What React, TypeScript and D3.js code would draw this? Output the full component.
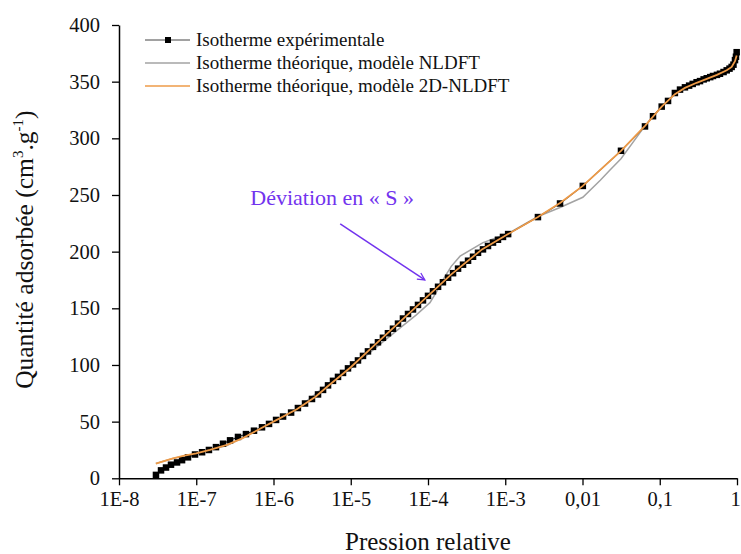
import React, { useEffect, useRef } from "react";
import * as d3 from "d3";

// experimental isotherm : relative pressure / adsorbed quantity (cm3.g-1)
const expPressure = [
    3.01e-8, 3.5e-8, 4.06e-8, 4.71e-8, 5.64e-8, 6.55e-8, 7.82e-8, 9.64e-8, 1.19e-7, 1.46e-7,
    1.8e-7, 2.22e-7, 2.74e-7, 3.47e-7, 4.4e-7, 5.59e-7, 7.1e-7, 8.75e-7, 1.08e-6, 1.33e-6,
    1.69e-6, 2.07e-6, 2.56e-6, 3.15e-6, 3.77e-6, 4.38e-6, 5.08e-6, 5.89e-6, 6.84e-6, 7.94e-6,
    9.21e-6, 1.07e-5, 1.24e-5, 1.44e-5, 1.67e-5, 1.94e-5, 2.25e-5, 2.61e-5, 3.03e-5, 3.52e-5,
    4.09e-5, 4.74e-5, 5.51e-5, 6.39e-5, 7.42e-5, 8.61e-5, 1.0e-4, 1.16e-4, 1.35e-4, 1.56e-4,
    1.82e-4, 2.11e-4, 2.45e-4, 2.84e-4, 3.3e-4, 3.83e-4, 4.44e-4, 5.15e-4, 5.98e-4, 6.94e-4,
    8.05e-4, 9.35e-4, 1.09e-3, 2.65e-3, 5.12e-3, 1.01e-2, 3.15e-2, 6.44e-2, 8.18e-2, 0.106,
    0.128, 0.157, 0.183, 0.212, 0.24, 0.267, 0.3, 0.332, 0.37, 0.406,
    0.45, 0.489, 0.55, 0.602, 0.67, 0.736, 0.8, 0.853, 0.9, 0.942,
    0.97, 0.99
];
const expQuantity = [
    3, 7, 9.5, 12, 14, 16, 18.5, 21, 23, 25,
    27.5, 30.5, 33.5, 36.5, 39, 42, 45, 48, 51.5, 54.5,
    58, 62, 66, 70, 74, 78, 82, 86, 89.5, 93,
    97, 100.5, 104, 108, 112, 116, 120, 124, 128, 132,
    136.5, 141, 145, 149, 153, 157, 161, 165, 169, 173,
    177, 181, 185, 188.5, 192, 195.5, 199, 202, 205, 208,
    210.5, 213, 215.5, 230.5, 242.5, 258, 289, 310.5, 319.5, 328,
    333, 340, 343, 345, 346.5, 348, 349.5, 350.5, 352, 353,
    354, 355, 356, 357, 358.5, 360, 361.5, 363, 365, 369,
    372, 376
];

// theoretical isotherm, NLDFT model
const nldftPressure = [
    3e-8, 5e-8, 1e-7, 2.5e-7, 6e-7, 1e-6, 2e-6, 5e-6, 1e-5, 2e-5,
    4.4e-5, 7e-5, 1.06e-4, 1.3e-4, 1.56e-4, 2e-4, 2.6e-4, 5.15e-4, 1.09e-3, 2.65e-3,
    5.12e-3, 1.01e-2, 1.7e-2, 2.27e-2, 3.15e-2, 6.44e-2, 0.106, 0.157, 0.212, 0.3,
    0.406, 0.55, 0.736, 0.853, 0.942, 0.99
];
const nldftQuantity = [
    13, 17.5, 22, 29, 42, 50, 61, 83, 97, 114,
    133, 144, 155, 165, 175, 187, 196, 208, 216, 231,
    239, 248, 263, 272, 282, 311, 328, 339, 344.5, 349,
    352.5, 356, 360, 363, 368, 373
];

// theoretical isotherm, 2D-NLDFT model
const nldft2dPressure = [
    3e-8, 4e-8, 5e-8, 7e-8, 1e-7, 1.5e-7, 2.5e-7, 4e-7, 6e-7, 1e-6,
    2e-6, 3.5e-6, 5e-6, 1e-5, 2e-5, 5e-5, 1e-4, 2e-4, 5e-4, 1.09e-3,
    2.65e-3, 5.12e-3, 1.01e-2, 3.15e-2, 6.44e-2, 0.106, 0.157, 0.212, 0.3, 0.406,
    0.55, 0.736, 0.853, 0.942, 0.99
];
const nldft2dQuantity = [
    13, 15.5, 17.5, 20, 22, 25, 29.5, 35.5, 42, 50,
    61, 72, 81, 98, 117, 142, 161, 180, 202, 215.5,
    230.5, 243, 258, 289, 311, 328, 339, 344.5, 349, 352.5,
    356, 360, 363, 368, 373
];

const xTickValues = [1e-8, 1e-7, 1e-6, 1e-5, 1e-4, 1e-3, 1e-2, 1e-1, 1];
const xTickLabels = ["1E-8", "1E-7", "1E-6", "1E-5", "1E-4", "1E-3", "0,01", "0,1", "1"];
const yTickValues = [0, 50, 100, 150, 200, 250, 300, 350, 400];
const yMinorTickValues = [25, 75, 125, 175, 225, 275, 325, 375];
const legendLabels = [
    "Isotherme expérimentale",
    "Isotherme théorique, modèle NLDFT",
    "Isotherme théorique, modèle 2D-NLDFT"
];
const annotationText = "Déviation en « S »";

const FONT = "'Liberation Serif', 'Times New Roman', serif";
const colors = {
    exp: "#222",
    nldft: "#a3a3a3",
    nldft2d: "#ee9b48",
    annotation: "#7233ee"
};

const W = 741;
const H = 554;
const m = { t: 25, r: 4, b: 75.7, l: 119 };

function drawChart(node: SVGSVGElement) {
    const svg = d3.select(node);
    svg.selectAll("*").remove();

    const x = d3.scaleLog().domain([1e-8, 1]).range([m.l, W - m.r]);
    const y = d3.scaleLinear().domain([0, 400]).range([H - m.b, m.t]);

    const line = d3.line<[number, number]>()
        .x(d => x(d[0]))
        .y(d => y(d[1]));

    const expData: [number, number][] = expPressure.map((p, i) => [p, expQuantity[i]]);
    const nldftData: [number, number][] = nldftPressure.map((p, i) => [p, nldftQuantity[i]]);
    const nldft2dData: [number, number][] = nldft2dPressure.map((p, i) => [p, nldft2dQuantity[i]]);

    // axes
    const xMinor = x.ticks().filter(t => !xTickValues.some(v => Math.abs(v - t) / v < 1e-9));
    const axisX = d3.axisBottom(x)
        .tickValues(xTickValues)
        .tickFormat((d, i) => xTickLabels[i])
        .tickSize(7)
        .tickSizeOuter(0)
        .tickPadding(6);
    const axisXMinor = d3.axisBottom(x)
        .tickValues(xMinor)
        .tickFormat(() => "")
        .tickSize(4)
        .tickSizeOuter(0);
    const axisY = d3.axisLeft(y)
        .tickValues(yTickValues)
        .tickSize(7)
        .tickSizeOuter(0)
        .tickPadding(12);
    const axisYMinor = d3.axisLeft(y)
        .tickValues(yMinorTickValues)
        .tickFormat(() => "")
        .tickSize(4)
        .tickSizeOuter(0);

    const gx = svg.append("g").attr("transform", `translate(0,${H - m.b})`);
    gx.call(axisXMinor);
    gx.call(axisX);
    const gy = svg.append("g").attr("transform", `translate(${m.l},0)`);
    gy.call(axisYMinor);
    gy.call(axisY);

    [gx, gy].forEach(g => {
        g.selectAll("path.domain").attr("stroke", "#000").attr("stroke-width", 1.5);
        g.selectAll(".tick line").attr("stroke", "#000").attr("stroke-width", 1.3);
        g.selectAll("text")
            .attr("font-family", FONT)
            .attr("font-size", 20.5)
            .attr("fill", "#111");
    });
    // last label sits on the right edge, keep it inside the picture
    gx.selectAll<SVGTextElement, number>(".tick text")
        .filter(d => d === 1)
        .attr("dx", -2);

    // axis titles
    svg.append("text")
        .attr("x", (m.l + W - m.r) / 2)
        .attr("y", 550)
        .attr("text-anchor", "middle")
        .attr("font-family", FONT)
        .attr("font-size", 25)
        .attr("fill", "#111")
        .text("Pression relative");

    const yTitle = svg.append("text")
        .attr("transform", `translate(33,${(m.t + H - m.b) / 2 - 2}) rotate(-90)`)
        .attr("text-anchor", "middle")
        .attr("font-family", FONT)
        .attr("font-size", 25.5)
        .attr("fill", "#111");
    yTitle.append("tspan").text("Quantité adsorbée (cm");
    yTitle.append("tspan").attr("dy", -10).attr("font-size", 15).text("3");
    yTitle.append("tspan").attr("dy", 10).text(".g");
    yTitle.append("tspan").attr("dy", -10).attr("font-size", 15).text("-1");
    yTitle.append("tspan").attr("dy", 10).text(")");

    // series
    svg.append("path")
        .attr("d", line(nldftData) || "")
        .attr("fill", "none")
        .attr("stroke", colors.nldft)
        .attr("stroke-width", 1.5);

    svg.append("path")
        .attr("d", line(expData) || "")
        .attr("fill", "none")
        .attr("stroke", colors.exp)
        .attr("stroke-width", 1.1);

    svg.append("g")
        .selectAll("rect")
        .data(expData)
        .enter()
        .append("rect")
        .attr("x", d => x(d[0]) - 3.25)
        .attr("y", d => y(d[1]) - 3.25)
        .attr("width", 6.5)
        .attr("height", 6.5)
        .attr("fill", "#000");

    svg.append("path")
        .attr("d", line(nldft2dData) || "")
        .attr("fill", "none")
        .attr("stroke", colors.nldft2d)
        .attr("stroke-width", 1.8);

    // legend
    const legend = svg.append("g").attr("transform", "translate(145,40)");
    const legendColors = [colors.exp, colors.nldft, colors.nldft2d];
    legendLabels.forEach((label, i) => {
        const row = legend.append("g").attr("transform", `translate(0,${i * 23})`);
        row.append("line")
            .attr("x1", 0).attr("x2", 45)
            .attr("stroke", i === 0 ? "#444" : legendColors[i])
            .attr("stroke-width", i === 0 ? 1 : 1.6);
        if (i === 0) {
            row.append("rect")
                .attr("x", 20).attr("y", -3)
                .attr("width", 6).attr("height", 6)
                .attr("fill", "#000");
        }
        row.append("text")
            .attr("x", 51)
            .attr("dy", "0.33em")
            .attr("font-family", FONT)
            .attr("font-size", 19)
            .attr("fill", "#111")
            .text(label);
    });

    // annotation "S" deviation
    svg.append("defs").append("marker")
        .attr("id", "arrowHead")
        .attr("viewBox", "0 0 10 10")
        .attr("refX", 9).attr("refY", 5)
        .attr("markerWidth", 9).attr("markerHeight", 9)
        .attr("markerUnits", "userSpaceOnUse")
        .attr("orient", "auto")
        .append("path")
        .attr("d", "M1,1 L9,5 L1,9")
        .attr("fill", "none")
        .attr("stroke", colors.annotation)
        .attr("stroke-width", 1.4);

    const tail: [number, number] = [7.3e-6, 224.5];
    const tip: [number, number] = [9.1e-5, 175];
    svg.append("line")
        .attr("x1", x(tail[0])).attr("y1", y(tail[1]))
        .attr("x2", x(tip[0])).attr("y2", y(tip[1]))
        .attr("stroke", colors.annotation)
        .attr("stroke-width", 1.5)
        .attr("marker-end", "url(#arrowHead)");

    svg.append("text")
        .attr("x", x(tail[0]) - 8)
        .attr("y", y(tail[1]) - 19)
        .attr("text-anchor", "middle")
        .attr("font-family", FONT)
        .attr("font-size", 22)
        .attr("fill", colors.annotation)
        .text(annotationText);
}

export default function App() {
    const ref = useRef<SVGSVGElement>(null);
    useEffect(() => {
        if (ref.current) drawChart(ref.current);
    }, []);
    return (
        <svg
            ref={ref}
            width={W}
            height={H}
            style={{ position: "absolute", left: 0, top: 0, background: "#fff" }}
        />
    );
}
